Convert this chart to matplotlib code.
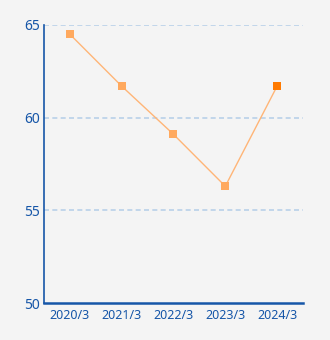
import matplotlib
matplotlib.use("Agg")
import matplotlib.pyplot as plt

periods = ["2020/3", "2021/3", "2022/3", "2023/3", "2024/3"]
values = [64.5, 61.7, 59.1, 56.3, 61.7]
y_ticks = [50, 55, 60, 65]

plt.rcParams["font.family"] = ["Noto Sans", "DejaVu Sans"]

bg = "#f4f4f4"
axis_blue = "#1656a8"
line_orange = "#ffb577"
marker_orange = "#ffa95e"
last_orange = "#ff7a00"

fig = plt.figure(figsize=(3.3, 3.4), dpi=100, facecolor=bg)
ax = fig.add_axes([0.1333, 0.1088, 0.7849, 0.8177])
ax.set_facecolor(bg)

x = list(range(len(periods)))
ax.plot(x, values, color=line_orange, linewidth=1, zorder=3)
ax.scatter(x[:-1], values[:-1], marker="s", s=28, color=marker_orange, zorder=4, linewidths=0)
ax.scatter(x[-1:], values[-1:], marker="s", s=28, color=last_orange, zorder=4, linewidths=0)

ax.set_xlim(-0.5, len(periods) - 0.5)
ax.set_ylim(50, 65)
ax.set_xticks(x)
ax.set_xticklabels(periods)
ax.set_yticks(y_ticks)

# Grid
for yv in y_ticks[1:]:
    ax.axhline(yv, color="#b9d0e8", linestyle=(0, (3, 2)), linewidth=1.2, zorder=1)

ax.tick_params(axis="x", length=0, colors=axis_blue, labelsize=9, pad=4)
ax.tick_params(axis="y", length=0, colors=axis_blue, labelsize=10, pad=3)

for side in ["top", "right"]:
    ax.spines[side].set_visible(False)
ax.spines["left"].set_color(axis_blue)
ax.spines["left"].set_linewidth(1.2)
ax.spines["bottom"].set_color(axis_blue)
ax.spines["bottom"].set_linewidth(1.8)

fig.savefig("out.png", dpi=100, facecolor=bg)
plt.close(fig)
